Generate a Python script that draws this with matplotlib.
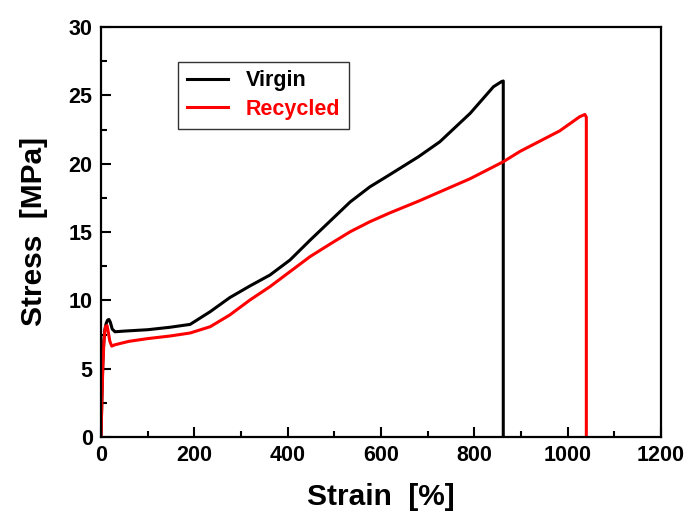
import matplotlib
matplotlib.use("Agg")
import matplotlib.pyplot as plt
from matplotlib.ticker import MultipleLocator

plt.rcParams['font.family'] = ['Liberation Sans', 'DejaVu Sans']
plt.rcParams['font.weight'] = 'bold'

# stress-strain curves (strain %, stress MPa); last point = break
virgin_strain = [0, 2, 4, 6, 8, 11, 14, 17, 20, 24, 30, 50, 100, 148, 191, 234, 276, 319, 362,
                 405, 448, 491, 534, 576, 619, 680, 726, 791, 841, 858, 862, 862]
virgin_stress = [0, 3.0, 5.6, 7.0, 7.8, 8.3, 8.55, 8.6, 8.4, 7.9, 7.7, 7.75, 7.85, 8.03, 8.24,
                 9.17, 10.2, 11.05, 11.85, 12.95, 14.4, 15.8, 17.2, 18.3, 19.2, 20.5, 21.6,
                 23.68, 25.63, 26.0, 26.05, 0]

recycled_strain = [0, 2, 4, 6, 8, 10, 13, 16, 19, 23, 30, 60, 100, 148, 191, 234, 276, 319, 362,
                   405, 448, 491, 534, 576, 619, 680, 791, 862, 898, 983, 1026, 1037, 1040, 1040]
recycled_stress = [0, 2.8, 5.2, 6.8, 7.7, 8.1, 8.15, 7.6, 7.0, 6.65, 6.75, 7.0, 7.2, 7.39, 7.61,
                   8.07, 8.93, 10.02, 11.0, 12.1, 13.2, 14.12, 15.02, 15.75, 16.4, 17.25, 18.9,
                   20.14, 20.9, 22.4, 23.44, 23.6, 23.4, 0]

fig = plt.figure(figsize=(6.91, 5.19), dpi=100)
ax = fig.add_axes([101 / 691, 82 / 519, 560 / 691, 410 / 519])

ax.plot(virgin_strain, virgin_stress, color='black', lw=2.2, label='Virgin',
        solid_joinstyle='round')
ax.plot(recycled_strain, recycled_stress, color='red', lw=2.2, label='Recycled',
        solid_joinstyle='round')

ax.set_xlim(0, 1200)
ax.set_ylim(0, 30)
ax.xaxis.set_major_locator(MultipleLocator(200))
ax.xaxis.set_minor_locator(MultipleLocator(100))
ax.yaxis.set_major_locator(MultipleLocator(5))
ax.yaxis.set_minor_locator(MultipleLocator(2.5))
ax.tick_params(which='both', direction='in', width=1.5, labelsize=15.5, pad=6)
ax.tick_params(which='major', length=7.5)
ax.tick_params(which='minor', length=4)
for s in ax.spines.values():
    s.set_linewidth(1.6)

ax.set_xlabel('Strain  [%]', fontsize=21.5, fontweight='bold', labelpad=12)
ax.set_ylabel('Stress  [MPa]', fontsize=21.5, fontweight='bold', labelpad=15)

leg = ax.legend(loc='upper left', bbox_to_anchor=(0.1375, 0.915), fontsize=15.5, frameon=True,
                fancybox=False, edgecolor='black', handlelength=1.9, handletextpad=0.85,
                borderpad=0.4, labelspacing=0.35, borderaxespad=0)
leg.get_frame().set_linewidth(1.0)
for t, c in zip(leg.get_texts(), ['black', 'red']):
    t.set_color(c)

fig.savefig('out.png', dpi=100)
